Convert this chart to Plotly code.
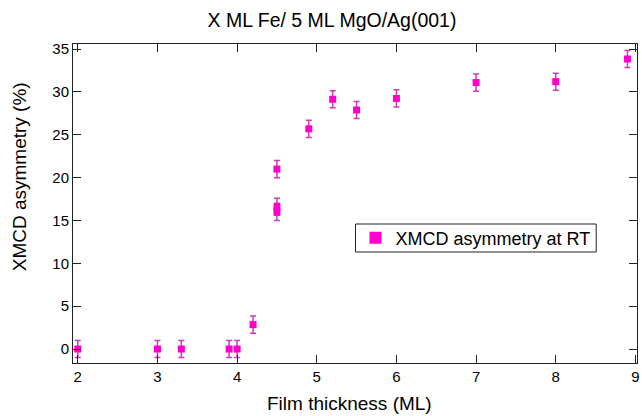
import plotly.graph_objects as go

# Data
thickness = [2.0, 3.0, 3.3, 3.9, 4.0, 4.2, 4.5, 4.5, 4.5, 4.9, 5.2, 5.5, 6.0, 7.0, 8.0, 8.9]
asymmetry = [0.0, 0.0, 0.0, 0.0, 0.0, 2.85, 16.0, 16.6, 21.0, 25.7, 29.15, 27.9, 29.25, 31.1, 31.2, 33.85]
asym_err = [1.0] * len(thickness)

x_ticks = [2, 3, 4, 5, 6, 7, 8, 9]
y_ticks = [0, 5, 10, 15, 20, 25, 30, 35]

FONT = "Liberation Sans, Arial, sans-serif"

# plot-area geometry in pixels (for placing text boxes)
L, R, T, B = 73, 640, 44, 363
W, H = R - L, B - T


def px_x(px):
    return (px - L) / W


def px_y(py):
    return (B - py) / H


fig = go.Figure()
fig.add_trace(go.Scatter(
    x=thickness, y=asymmetry, mode="markers",
    name="XMCD asymmetry at RT",
    marker=dict(symbol="square", size=7, color="#FF00CC", line=dict(width=0)),
    error_y=dict(type="data", array=asym_err, visible=True,
                 color="#D03CB0", thickness=1.5, width=3),
))

axis_common = dict(
    showline=True, linecolor="#222", linewidth=1, mirror="ticks",
    ticks="inside", ticklen=8, tickcolor="#222", tickwidth=1,
    showgrid=False, zeroline=False,
    tickfont=dict(family=FONT, size=15, color="black"),
)

fig.update_layout(
    width=642, height=416,
    margin=dict(l=L, r=642 - R, t=T, b=416 - B),
    paper_bgcolor="white", plot_bgcolor="white",
    font=dict(family=FONT, color="black"),
    title=dict(text="X ML Fe/ 5 ML MgO/Ag(001)", x=332 / 642, xanchor="center",
               xref="container", y=1 - 20 / 416, yanchor="middle", yref="container",
               font=dict(family=FONT, size=19.5, color="black")),
    xaxis=dict(range=[1.94, 9.02], tickvals=x_ticks, ticklabeloverflow="allow", **axis_common),
    yaxis=dict(range=[-1.63, 35.6], tickvals=y_ticks, **axis_common),
    showlegend=True,
    legend=dict(x=px_x(357), y=px_y(238), xanchor="left", yanchor="middle",
                borderwidth=0, bgcolor="rgba(0,0,0,0)",
                itemsizing="constant",
                font=dict(family=FONT, size=18, color="black")),
    shapes=[dict(type="rect", xref="paper", yref="paper",
                 x0=px_x(357), x1=px_x(599), y0=px_y(252), y1=px_y(224),
                 line=dict(color="#222", width=1), fillcolor="rgba(0,0,0,0)",
                 layer="below")],
    annotations=[
        dict(text="XMCD asymmetry (%)", x=px_x(20), y=px_y(177),
             xref="paper", yref="paper", showarrow=False, textangle=-90,
             font=dict(family=FONT, size=19, color="black"),
             xanchor="center", yanchor="middle"),
        dict(text="Film thickness (ML)", x=px_x(351), y=px_y(403),
             xref="paper", yref="paper", showarrow=False,
             font=dict(family=FONT, size=19, color="black"),
             xanchor="center", yanchor="middle"),
    ],
)

fig.write_html("out.html")
